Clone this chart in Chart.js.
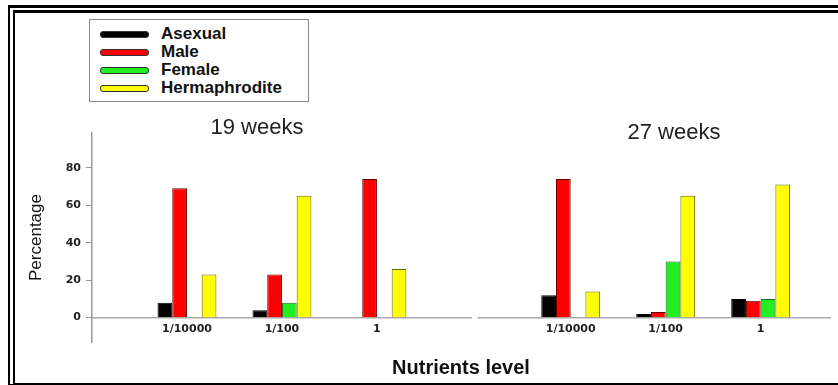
<!DOCTYPE html>
<html>
<head>
<meta charset="utf-8">
<script src="https://cdn.jsdelivr.net/npm/chart.js@4.4.1/dist/chart.umd.min.js"></script>
<style>
  html, body { margin: 0; padding: 0; background: #fff; }
  #wrap { position: relative; width: 838px; height: 385px; overflow: hidden; font-family: "Liberation Sans", Arial, sans-serif; }
  #chart { position: absolute; left: 0; top: 0; }
  #frame {
    position: absolute; left: 8px; top: 5px; width: 850px; height: 380px; box-sizing: border-box;
    border-top: 8px double #000; border-left: 7px double #000; border-bottom: 2px solid #000;
    pointer-events: none;
  }
  .panel { position: absolute; font-size: 22px; color: #222; transform: translateX(-50%); white-space: nowrap; line-height: 1; }
  #legend {
    position: absolute; left: 89px; top: 19px; width: 220px; height: 83px; box-sizing: border-box;
    border: 1px solid #888; background: #fff; padding-top: 5px;
  }
  .item { height: 18px; display: flex; align-items: center; }
  .swatch { width: 47px; height: 5px; border-radius: 3px; margin-left: 10px; margin-right: 12px; border: 1px solid #333; }
  .item span { font-weight: bold; font-size: 17px; color: #111; }
</style>
</head>
<body>
<div id="wrap">
  <canvas id="chart" width="838" height="385"></canvas>
  <div id="legend"></div>
  <div id="frame"></div>
</div>
<script>
const categories = ['1/10000', '1/100', '1'];
const panels = ['19 weeks', '27 weeks'];
const xPositions = [1, 2, 3, 5.04, 6.04, 7.04];
const xLabels = ['1/10000', '1/100', '1', '1/10000', '1/100', '1'];
const asexual = [8, 4, 0, 12, 2, 10];
const male = [69, 23, 74, 74, 3, 9];
const female = [0, 8, 0, 0, 30, 10];
const hermaphrodite = [23, 65, 26, 14, 65, 71];
const yTicks = [0, 20, 40, 60, 80];

const seriesNames = ['Asexual', 'Male', 'Female', 'Hermaphrodite'];
const seriesData = [asexual, male, female, hermaphrodite];
const fills = ['#000000', '#ff0000', '#22ee22', '#ffff00'];
const edges = ['#000000', '#6a0000', '#1a6b1a', '#6b6400'];

const datasets = seriesNames.map((name, i) => ({
  label: name,
  data: seriesData[i].map((v, j) => ({ x: xPositions[j], y: v })),
  backgroundColor: fills[i],
  borderColor: edges[i],
  borderWidth: 1,
  borderSkipped: 'bottom',
  categoryPercentage: 0.62,
  barPercentage: 1.0
}));

// small break in the baseline between the two panels
const panelBreak = {
  id: 'panelBreak',
  afterDraw(chart) {
    const { ctx, scales: { x, y } } = chart;
    const x0 = x.getPixelForValue(4.0);
    const x1 = x.getPixelForValue(4.06);
    const y0 = y.getPixelForValue(0);
    ctx.save();
    ctx.fillStyle = '#fff';
    ctx.fillRect(x0, y0 - 2, x1 - x0, 4);
    ctx.restore();
  }
};

const chart = new Chart(document.getElementById('chart'), {
  type: 'bar',
  data: { datasets },
  options: {
    responsive: false,
    animation: false,
    layout: { padding: { top: 133, right: 8, bottom: 43, left: 0 } },
    plugins: { legend: { display: false }, tooltip: { enabled: false } },
    scales: {
      x: {
        type: 'linear',
        min: 0,
        max: 7.77,
        offset: false,
        position: { y: 0 },
        afterBuildTicks: s => { s.ticks = xPositions.map(v => ({ value: v })); },
        ticks: {
          autoSkip: false,
          maxRotation: 0,
          padding: 5,
          color: '#222',
          font: { family: 'DejaVu Sans', weight: 'bold', size: 11 },
          callback: v => xLabels[xPositions.indexOf(v)]
        },
        grid: { drawOnChartArea: false, drawTicks: false },
        border: { color: '#aaa', width: 1.5 },
        title: {
          display: true,
          text: 'Nutrients level',
          color: '#111',
          font: { family: 'Liberation Sans', weight: 'bold', size: 20 },
          padding: { top: 16, bottom: 0 }
        }
      },
      y: {
        min: -13,
        max: 98.5,
        afterFit: s => { s.width = 92; },
        afterBuildTicks: s => { s.ticks = yTicks.map(v => ({ value: v })); },
        ticks: {
          padding: 5,
          color: '#222',
          font: { family: 'DejaVu Sans', weight: 'bold', size: 11 }
        },
        grid: { drawOnChartArea: false, tickLength: 6, color: '#999' },
        border: { color: '#999', width: 1.5 },
        title: {
          display: true,
          text: 'Percentage',
          color: '#111',
          font: { family: 'Liberation Sans', size: 17 },
          padding: { top: 26, bottom: 0 }
        }
      }
    }
  },
  plugins: [panelBreak]
});

// legend box built from the datasets
const legend = document.getElementById('legend');
chart.data.datasets.forEach(ds => {
  const row = document.createElement('div');
  row.className = 'item';
  row.innerHTML = `<div class="swatch" style="background:${ds.backgroundColor}"></div><span>${ds.label}</span>`;
  legend.appendChild(row);
});

// panel titles
const panelCenters = [[257, 116], [674, 121]];
panels.forEach((t, i) => {
  const el = document.createElement('div');
  el.className = 'panel';
  el.textContent = t;
  el.style.left = panelCenters[i][0] + 'px';
  el.style.top = panelCenters[i][1] + 'px';
  document.getElementById('wrap').appendChild(el);
});
</script>
</body>
</html>
